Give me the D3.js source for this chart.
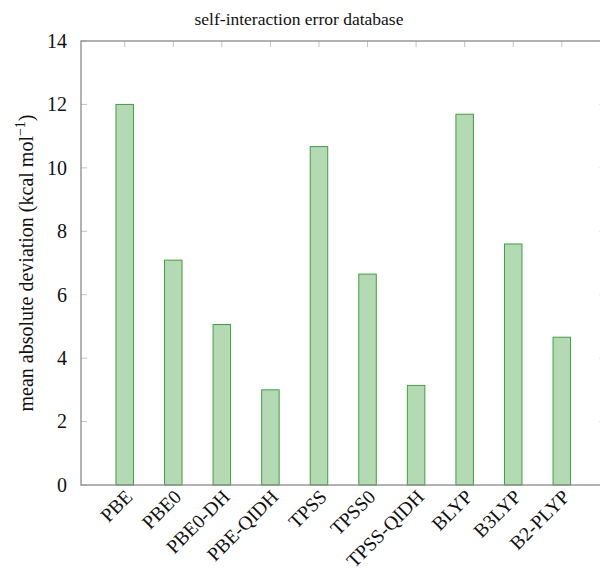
<!DOCTYPE html>
<html>
<head>
<meta charset="utf-8">
<script src="https://cdn.jsdelivr.net/npm/d3@7"></script>
<style>
  html, body { margin: 0; padding: 0; background: #fff; }
  svg { display: block; }
  text { font-family: "Liberation Serif", "DejaVu Serif", serif; fill: #111; }
</style>
</head>
<body>
<svg id="chart" width="600" height="576"></svg>
<script>
// Functionals and their mean absolute deviations (kcal/mol)
const methods = ["PBE", "PBE0", "PBE0-DH", "PBE-QIDH", "TPSS", "TPSS0", "TPSS-QIDH", "BLYP", "B3LYP", "B2-PLYP"];
const mad = [12.0, 7.09, 5.06, 3.0, 10.67, 6.65, 3.14, 11.69, 7.6, 4.66];
const yTicks = [0, 2, 4, 6, 8, 10, 12, 14];

const svg = d3.select("#chart");

const plotLeft = 81, plotRight = 605.5, plotTop = 41, plotBottom = 485;
const n = methods.length;

// Index-based x scale with 10% enlargement of the limits on each side
const pad = (n - 1) * 0.1;
const x = d3.scaleLinear().domain([-pad, n - 1 + pad]).range([plotLeft, plotRight]);
const y = d3.scaleLinear().domain([0, 14]).range([plotBottom, plotTop]);
const barW = 17.5;

// Bars
svg.append("g").selectAll("rect")
  .data(methods)
  .join("rect")
  .attr("x", (d, i) => x(i) - barW / 2)
  .attr("y", (d, i) => y(mad[i]))
  .attr("width", barW)
  .attr("height", (d, i) => y(0) - y(mad[i]))
  .attr("fill", "#b3dab3")
  .attr("stroke", "#3f9f3f")
  .attr("stroke-width", 1);

// Tick marks (inward) on all four sides
const tickColor = "#c4c4c4";
const tl = 6;
const ticks = svg.append("g").attr("stroke", tickColor).attr("stroke-width", 1);
yTicks.forEach(t => {
  ticks.append("line").attr("x1", plotLeft).attr("x2", plotLeft + tl).attr("y1", y(t)).attr("y2", y(t));
  ticks.append("line").attr("x1", plotRight).attr("x2", plotRight - tl).attr("y1", y(t)).attr("y2", y(t));
});
methods.forEach((m, i) => {
  ticks.append("line").attr("x1", x(i)).attr("x2", x(i)).attr("y1", plotTop).attr("y2", plotTop + tl);
});

// Axis frame
svg.append("rect")
  .attr("x", plotLeft).attr("y", plotTop)
  .attr("width", plotRight - plotLeft).attr("height", plotBottom - plotTop)
  .attr("fill", "none").attr("stroke", "#8a8a8a").attr("stroke-width", 1.3);

// Y tick labels
svg.append("g").selectAll("text")
  .data(yTicks)
  .join("text")
  .attr("x", plotLeft - 14)
  .attr("y", d => y(d))
  .attr("dy", "0.34em")
  .attr("text-anchor", "end")
  .attr("font-size", 20)
  .text(d => d);

// X tick labels, rotated
svg.append("g").selectAll("text")
  .data(methods)
  .join("text")
  .attr("text-anchor", "end")
  .attr("font-size", 19.5)
  .attr("transform", (d, i) => `translate(${x(i) + 9},${plotBottom + 13}) rotate(-45)`)
  .text(d => d);

// Title
svg.append("text")
  .attr("x", 299)
  .attr("y", 25)
  .attr("text-anchor", "middle")
  .attr("font-size", 17.5)
  .text("self-interaction error database");

// Y axis label
const yl = svg.append("text")
  .attr("transform", `translate(33,${(plotTop + plotBottom) / 2}) rotate(-90)`)
  .attr("text-anchor", "middle")
  .attr("font-size", 20);
yl.append("tspan").text("mean absolute deviation (kcal mol");
yl.append("tspan").attr("dy", -8).attr("font-size", 14).text("−1");
yl.append("tspan").attr("dy", 8).text(")");
</script>
</body>
</html>
